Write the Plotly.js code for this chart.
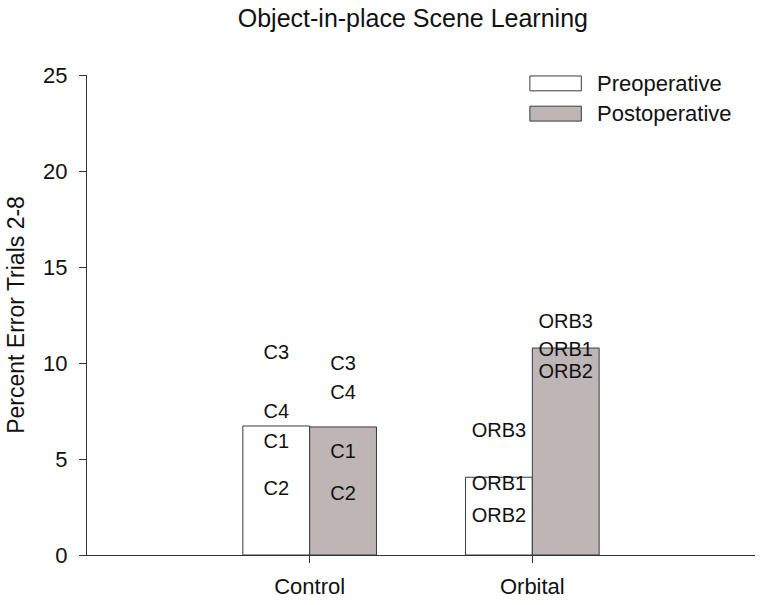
<!DOCTYPE html>
<html>
<head>
<meta charset="utf-8">
<script src="https://cdn.plot.ly/plotly-3.0.1.min.js"></script>
<style>
  body { margin: 0; background: #fff; }
  #chart { width: 766px; height: 605px; }
</style>
</head>
<body>
<div id="chart"></div>
<script>
var groups = ['Control', 'Orbital'];
var preMeans = [6.72, 4.05];
var postMeans = [6.67, 10.78];

// individual animals, plotted as text labels
var ctlNames = ['C1', 'C2', 'C3', 'C4'];
var ctlPre = [5.83, 3.39, 10.47, 7.4];
var ctlPost = [5.31, 3.13, 9.9, 8.39];
var orbNames = ['ORB1', 'ORB2', 'ORB3'];
var orbPre = [3.65, 2.0, 6.4];
var orbPost = [10.6, 9.5, 12.1];

var font = 'Liberation Sans, Arial, sans-serif';
var bargap = 0.4;
var shift = (1 - bargap) / 4;   // centre of each bar in a group

var idx = groups.map(function (g, i) { return i; });

function labels(names, vals, pos) {
  return {
    type: 'scatter', mode: 'text',
    x: names.map(function () { return pos; }),
    y: vals, text: names,
    textposition: 'middle center',
    textfont: {family: font, size: 20, color: '#111'},
    hoverinfo: 'skip', showlegend: false, cliponaxis: false
  };
}

var data = [
  {
    type: 'bar', name: 'Preoperative', x: idx, y: preMeans,
    marker: {color: '#ffffff', line: {color: '#3a3a3a', width: 1}}
  },
  {
    type: 'bar', name: 'Postoperative', x: idx, y: postMeans,
    marker: {color: '#bdb5b6', line: {color: '#3a3a3a', width: 1}}
  },
  labels(ctlNames, ctlPre, 0 - shift),
  labels(ctlNames, ctlPost, 0 + shift),
  labels(orbNames, orbPre, 1 - shift),
  labels(orbNames, orbPost, 1 + shift)
];

var layout = {
  width: 766, height: 605,
  margin: {l: 87, r: 11, t: 75, b: 50},
  paper_bgcolor: '#fff', plot_bgcolor: '#fff',
  font: {family: font, color: '#111'},
  barmode: 'group', bargap: bargap, bargroupgap: 0,
  showlegend: false,
  title: {
    text: 'Object-in-place Scene Learning',
    font: {family: font, size: 25, color: '#111'},
    xref: 'container', x: 0.539, xanchor: 'center',
    yref: 'container', y: 0.970, yanchor: 'middle'
  },
  xaxis: {
    range: [-1, 2],
    tickvals: idx, ticktext: groups,
    ticks: 'outside', ticklen: 7, tickcolor: '#333',
    ticklabelstandoff: 5,
    showline: true, linecolor: '#333', linewidth: 1,
    showgrid: false, zeroline: false,
    tickfont: {family: font, size: 22, color: '#111'}
  },
  yaxis: {
    range: [0, 25], dtick: 5,
    ticks: 'outside', ticklen: 7, tickcolor: '#333',
    ticklabelstandoff: 7,
    showline: true, linecolor: '#333', linewidth: 1,
    showgrid: false, zeroline: false,
    tickfont: {family: font, size: 22, color: '#111'},
    title: {text: 'Percent Error Trials 2-8', font: {family: font, size: 23, color: '#111'}, standoff: 12}
  },
  shapes: [
    {type: 'rect', xref: 'paper', yref: 'paper', x0: 0.663, x1: 0.740, y0: 0.967, y1: 0.998,
     fillcolor: '#ffffff', line: {color: '#3a3a3a', width: 1}},
    {type: 'rect', xref: 'paper', yref: 'paper', x0: 0.663, x1: 0.740, y0: 0.904, y1: 0.935,
     fillcolor: '#bdb5b6', line: {color: '#3a3a3a', width: 1}}
  ],
  annotations: [
    {xref: 'paper', yref: 'paper', x: 0.760, y: 0.982, xanchor: 'left', yanchor: 'middle',
     text: 'Preoperative', showarrow: false, font: {family: font, size: 22, color: '#111'}},
    {xref: 'paper', yref: 'paper', x: 0.760, y: 0.919, xanchor: 'left', yanchor: 'middle',
     text: 'Postoperative', showarrow: false, font: {family: font, size: 22, color: '#111'}}
  ]
};

Plotly.newPlot('chart', data, layout, {displayModeBar: false, staticPlot: true});
</script>
</body>
</html>
